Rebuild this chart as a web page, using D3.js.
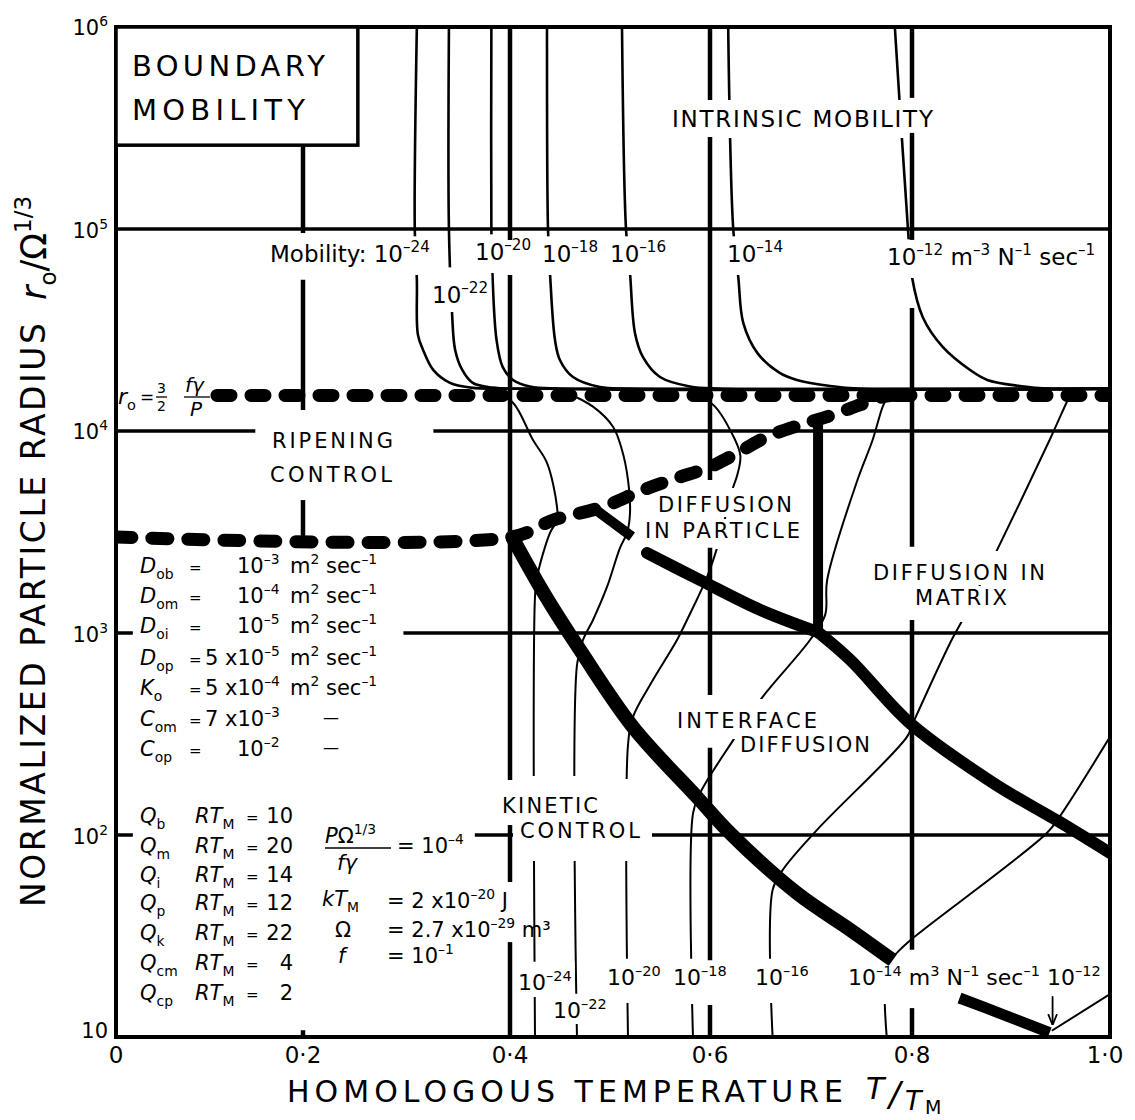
<!DOCTYPE html>
<html>
<head>
<meta charset="utf-8">
<script src="https://cdn.jsdelivr.net/npm/d3@7"></script>
<style>
  body { margin: 0; background: #fff; }
  text { font-family: "DejaVu Sans", "Liberation Sans", sans-serif; fill: #000; white-space: pre; }
</style>
</head>
<body>
<svg id="chart" width="1135" height="1120"></svg>
<script>
// ---------------- DATA (T/T_M, r0/Ω^(1/3)) ----------------
const xTicks = [0, 0.2, 0.4, 0.6, 0.8, 1.0];
const xTickLabels = ["0", "0·2", "0·4", "0·6", "0·8", "1·0"];
const yTicks = [10, 1e2, 1e3, 1e4, 1e5, 1e6];
const yTickExponents = ["", "2", "3", "4", "5", "6"];

// iso-mobility contours above the pinning limit (intrinsic region), exponents -24 ... -12
const mobilityExponents = ["–24", "–22", "–20", "–18", "–16", "–14", "–12"];
const upper24 = [[0.310,1e6],[0.308,1e5],[0.310,56000],[0.311,30000],[0.316,25200],[0.326,20000],[0.342,17300],[0.362,16400],[0.40,16200],[1.0,16200]];
const upper22 = [[0.341,1e6],[0.341,1e5],[0.344,38400],[0.347,25200],[0.354,20000],[0.364,17300],[0.383,16400],[0.42,16200],[1.0,16200]];
const upper20 = [[0.382,1e6],[0.382,1e5],[0.383,60500],[0.387,28200],[0.393,20700],[0.403,17900],[0.420,16600],[0.45,16200],[1.0,16200]];
const upper18 = [[0.437,1e6],[0.438,1e5],[0.440,60500],[0.445,28200],[0.450,22400],[0.463,18500],[0.490,16500],[0.52,16200],[1.0,16200]];
const upper16 = [[0.512,1e6],[0.516,1e5],[0.520,60500],[0.525,30500],[0.533,23200],[0.550,18500],[0.580,16600],[0.61,16200],[1.0,16200]];
const upper14 = [[0.618,1e6],[0.623,1e5],[0.628,57800],[0.633,34200],[0.647,24300],[0.669,19400],[0.686,17900],[0.719,16700],[0.75,16200],[1.0,16200]];
const upper12 = [[0.783,1e6],[0.796,1e5],[0.800,57800],[0.811,36500],[0.831,26100],[0.859,20000],[0.876,17900],[0.909,16700],[0.94,16200],[1.0,16200]];

// iso-mobility contours below the pinning limit
const lower24 = [[0.385,15600],[0.403,13800],[0.423,9020],[0.437,6950],[0.447,4210],[0.447,3620],[0.440,3130],[0.427,1890],[0.425,1510],[0.425,10]];
const lower22 = [[0.455,15600],[0.483,13200],[0.503,10500],[0.512,8050],[0.518,5720],[0.520,3930],[0.517,3130],[0.510,2640],[0.497,1690],[0.483,1160],[0.473,923],[0.467,695],[0.467,10]];
const lower20 = [[0.585,15600],[0.605,13200],[0.620,10100],[0.630,7600],[0.627,6050],[0.623,5280],[0.607,2640],[0.597,1890],[0.577,1160],[0.567,923],[0.540,553],[0.523,384],[0.518,279],[0.518,10]];
const lower18 = [[0.583,10],[0.583,128],[0.590,161],[0.623,295],[0.652,482],[0.699,923],[0.714,1230],[0.716,1830],[0.746,5720],[0.761,9020],[0.771,13200],[0.776,14800]];
const lower16 = [[0.662,10],[0.662,53.5],[0.672,67.1],[0.706,106],[0.795,306],[0.801,358],[0.840,923],[0.851,1160],[0.886,2580],[0.939,9020],[0.956,13800],[0.959,14800]];
const lower14 = [[0.775,10],[0.775,22.7],[0.786,26.4],[0.801,30.9],[0.936,102],[0.949,123],[1.0,306]];
const lower12 = [[0.942,10.8],[1.0,16.3]];
const arrow12 = [[0.942,15.8],[0.942,11.6]];

// field boundaries (heavy lines)
const kineticBoundary = [[0.402,2990],[0.435,1540],[0.470,824],[0.523,342],[0.587,154],[0.620,102],[0.686,51.6],[0.739,33.9],[0.781,24.0]];
const particleBoundary = [[0.537,2490],[0.590,1830],[0.650,1300],[0.707,1010]];
const matrixBoundary = [[0.707,1010],[0.739,735],[0.798,358],[0.882,181],[0.949,116],[1.0,81.5]];
const ripeningBoundary = [[0.707,10700],[0.707,1010]];
const lowerRightBoundary = [[0.848,15.6],[0.894,12.8],[0.939,10.5]];
const wedgeBoundary = [[0.488,4000],[0.522,3000]];

// dashed limits
const pinningLimit = [[0.108,15000],[1.0,15000]];
const ripeningLimit = [[0,2990],[0.402,2990],[0.443,3620],[0.493,4210],[0.533,5100],[0.567,5850],[0.600,6640],[0.627,7780],[0.656,9340],[0.689,10700],[0.719,11900],[0.749,13500],[0.774,14900],[0.80,15000]];

// grid segments (with the breaks of the original drawing)
const gridH = [
  {r:1e5, t0:0, t1:1},
  {r:1e4, t0:0, t1:0.149}, {r:1e4, t0:0.326, t1:1},
  {r:1e3, t0:0, t1:0.018}, {r:1e3, t0:0.297, t1:1},
  {r:1e2, t0:0, t1:0.018}, {r:1e2, t0:0.366, t1:0.403}, {r:1e2, t0:0.542, t1:1}
];
const gridV = [
  {t:0.2, r0:260000, r1:95500}, {t:0.2, r0:56000, r1:12700}, {t:0.2, r0:4550, r1:2990}, {t:0.2, r0:10.8, r1:10},
  {t:0.4, r0:1e6, r1:88300}, {t:0.4, r0:59200, r1:187}, {t:0.4, r0:112, r1:58.5}, {t:0.4, r0:29.5, r1:10},
  {t:0.6, r0:1e6, r1:435000}, {t:0.6, r0:285000, r1:5720}, {t:0.6, r0:2640, r1:493}, {t:0.6, r0:270, r1:24}, {t:0.6, r0:14.4, r1:10},
  {t:0.8, r0:1e6, r1:446000}, {t:0.8, r0:299000, r1:88300}, {t:0.8, r0:40600, r1:2670}, {t:0.8, r0:1160, r1:27}, {t:0.8, r0:13.9, r1:10}
];
const titleBox = {t0:0, t1:0.253, r0:1e6, r1:260000};

// material parameters
const paramSymbols = ["D","D","D","D","K","C","C"];
const paramSubscripts = ["ob","om","oi","op","o","om","op"];
const paramMantissas = ["","","","5 x","5 x","7 x",""];
const paramExponents = ["–3","–4","–5","–5","–4","–3","–2"];
const paramHasUnits = [true,true,true,true,true,false,false];
const activationSubscripts = ["b","m","i","p","k","cm","cp"];
const activationValues = ["10","20","14","12","22","4","2"];
const pressureRatioExponent = "–4";
const constMantissas = ["2 x","2.7 x",""];
const constExponents = ["–20","–29","–1"];
const constUnits = [" J"," m³",""];

// ---------------- DRAWING ----------------
const svg = d3.select("#chart");
const x = d3.scaleLinear().domain(xTicks).range([116, 303, 510, 710, 912, 1110]);
const y = d3.scaleLog().domain([10, 1e6]).range([1037, 27]);
const smooth = d3.line().x(d => x(d[0])).y(d => y(d[1])).curve(d3.curveCatmullRom.alpha(0.5));
const straight = d3.line().x(d => x(d[0])).y(d => y(d[1]));

const defs = svg.append("defs");
defs.append("clipPath").attr("id", "plotClip").append("rect")
  .attr("x", x(0)).attr("y", y(1e6)).attr("width", x(1) - x(0)).attr("height", y(10) - y(1e6));
defs.append("marker").attr("id", "arr").attr("viewBox", "0 0 10 10").attr("refX", 9).attr("refY", 5)
  .attr("markerUnits", "userSpaceOnUse").attr("markerWidth", 11).attr("markerHeight", 11).attr("orient", "auto")
  .append("path").attr("d", "M0,1 L10,5 L0,9").attr("fill", "none").attr("stroke", "#000").attr("stroke-width", 1.6);

// layers
const gCont = svg.append("g").attr("fill", "none").attr("stroke", "#000").attr("stroke-linecap", "round").attr("clip-path", "url(#plotClip)");
const gKo = svg.append("g");
const gGrid = svg.append("g").attr("stroke", "#000");
const gThick = svg.append("g").attr("fill", "none").attr("stroke", "#000").attr("clip-path", "url(#plotClip)");
const gDash = svg.append("g").attr("fill", "none").attr("stroke", "#000").attr("clip-path", "url(#plotClip)");
const gFrame = svg.append("g").attr("fill", "none").attr("stroke", "#000");
const gText = svg.append("g");

// thin contours
[upper24, upper22, upper20, upper18, upper16, upper14, upper12].forEach(c =>
  gCont.append("path").attr("d", smooth(c)).attr("stroke-width", 2.6));
[lower24, lower22, lower20, lower18, lower16, lower14, lower12].forEach(c =>
  gCont.append("path").attr("d", smooth(c)).attr("stroke-width", 2));
gCont.append("path").attr("d", straight(arrow12)).attr("stroke-width", 1.8).attr("marker-end", "url(#arr)");

// grid
gridH.forEach(s => gGrid.append("line")
  .attr("x1", x(s.t0)).attr("x2", x(s.t1)).attr("y1", y(s.r)).attr("y2", y(s.r)).attr("stroke-width", 3.5));
gridV.forEach(s => gGrid.append("line")
  .attr("x1", x(s.t)).attr("x2", x(s.t)).attr("y1", y(s.r0)).attr("y2", y(s.r1)).attr("stroke-width", 4.5));

// heavy boundaries
gThick.append("path").attr("d", smooth(kineticBoundary)).attr("stroke-width", 14).attr("stroke-linecap", "butt");
gThick.append("path").attr("d", smooth(particleBoundary)).attr("stroke-width", 12).attr("stroke-linecap", "round");
gThick.append("path").attr("d", smooth(matrixBoundary)).attr("stroke-width", 12).attr("stroke-linecap", "round");
gThick.append("path").attr("d", straight(ripeningBoundary)).attr("stroke-width", 10).attr("stroke-linecap", "butt");
gThick.append("path").attr("d", smooth(lowerRightBoundary)).attr("stroke-width", 11).attr("stroke-linecap", "butt");
gThick.append("path").attr("d", straight(wedgeBoundary)).attr("stroke-width", 10).attr("stroke-linecap", "butt");

// dashed limits
gDash.append("path").attr("d", straight(pinningLimit)).attr("stroke-width", 13)
  .attr("stroke-linecap", "round").attr("stroke-dasharray", "14 20");
gDash.append("path").attr("d", smooth(ripeningLimit)).attr("stroke-width", 13)
  .attr("stroke-linecap", "round").attr("stroke-dasharray", "16 20");

// frame and title box
gFrame.append("rect").attr("x", x(0)).attr("y", y(1e6)).attr("width", x(1) - x(0)).attr("height", y(10) - y(1e6)).attr("stroke-width", 4);
gFrame.append("rect").attr("x", x(titleBox.t0)).attr("y", y(titleBox.r0))
  .attr("width", x(titleBox.t1) - x(titleBox.t0)).attr("height", y(titleBox.r1) - y(titleBox.r0))
  .attr("fill", "#fff").attr("stroke-width", 3.5);

// ---------------- TEXT ----------------
function rich(parent, px, py, parts, size, opts = {}) {
  const t = parent.append("text").attr("x", px).attr("y", py).attr("font-size", size);
  if (opts.anchor) t.attr("text-anchor", opts.anchor);
  if (opts.transform) t.attr("transform", opts.transform).attr("x", 0).attr("y", 0);
  let off = 0;
  parts.forEach(p => {
    const [s, k] = Array.isArray(p) ? [p[0], p[1] || ""] : [p, ""];
    let target = 0, fs = size;
    if (k.includes("^")) { target = -0.42 * size; fs = 0.66 * size; }
    else if (k.includes("_")) { target = 0.28 * size; fs = 0.66 * size; }
    const ts = t.append("tspan").text(s).attr("font-size", fs);
    if (target - off !== 0) ts.attr("dy", (target - off).toFixed(2));
    if (k.includes("i")) ts.attr("font-style", "italic");
    off = target;
  });
  return t;
}
function knockout(t, pad) {
  const b = t.node().getBBox();
  const [pt, pb, px] = pad;
  gKo.append("rect").attr("x", b.x - px).attr("y", b.y - pt)
    .attr("width", b.width + 2 * px).attr("height", b.height + pt + pb).attr("fill", "#fff");
}
function caps(str, px, py, w, size, pad) {
  const t = gText.append("text").attr("x", px).attr("y", py).attr("font-size", size)
    .attr("textLength", w).attr("lengthAdjust", "spacing").text(str);
  if (pad) knockout(t, pad);
  return t;
}

// axis tick labels
const yTickDy = [1, 9, 9, 8, 9, 8];
yTicks.forEach((v, i) => rich(gText, 108, y(v) + yTickDy[i], ["10", [yTickExponents[i], "^"]], 21, {anchor: "end"}));
xTicks.forEach((v, i) => gText.append("text").attr("x", x(v) - (i === 5 ? 5 : 0)).attr("y", 1063)
  .attr("font-size", 23).attr("text-anchor", "middle").text(xTickLabels[i]));

// axis titles
caps("HOMOLOGOUS TEMPERATURE", 287, 1102, 556, 30);
gText.append("text").attr("x", 866).attr("y", 1099).attr("font-size", 30).attr("font-style", "italic").text("T");
gText.append("text").attr("x", 889).attr("y", 1106).attr("font-size", 34).attr("font-style", "italic").text("/");
gText.append("text").attr("x", 905).attr("y", 1110).attr("font-size", 27).attr("font-style", "italic").text("T");
gText.append("text").attr("x", 925).attr("y", 1114).attr("font-size", 19).text("M");
gText.append("text").attr("transform", "translate(45,907) rotate(-90)").attr("font-size", 33)
  .attr("textLength", 584).attr("lengthAdjust", "spacing").text("NORMALIZED PARTICLE RADIUS");
rich(gText, 0, 0, [["r", "i"], ["o", "_"], "/", "Ω", ["1/3", "^"]], 35, {transform: "translate(46,300) rotate(-90)"});

// region labels
caps("BOUNDARY", 132, 76, 193, 29);
caps("MOBILITY", 132, 120, 173, 29);
caps("INTRINSIC MOBILITY", 672, 127, 261, 23, [6, 6, 3]);
caps("RIPENING", 272, 448, 121, 21);
caps("CONTROL", 270, 482, 122, 21);
caps("DIFFUSION", 658, 512, 134, 21, [5, 0, 3]);
caps("IN PARTICLE", 645, 538, 155, 21, [0, 6, 3]);
caps("DIFFUSION IN", 873, 580, 172, 21, [10, 0, 3]);
caps("MATRIX", 915, 605, 92, 21, [0, 12, 3]);
caps("INTERFACE", 677, 728, 140, 21, [10, 6, 3]);
caps("DIFFUSION", 740, 752, 130, 21, [0, 4, 3]);
caps("KINETIC", 502, 813, 96, 21, [18, 0, 3]);
caps("CONTROL", 520, 838, 120, 21, [40, 18, 4]);

// mobility labels (top row, intrinsic)
const topLabelPos = [[270, 262], [432, 303], [475, 260], [542, 262], [610, 262], [727, 262], [887, 265]];
mobilityExponents.forEach((e, i) => {
  let parts = ["10", [e, "^"]];
  if (i === 0) parts = ["Mobility: 10", [e, "^"]];
  if (i === 6) parts = ["10", [e, "^"], " m", ["–3", "^"], " N", ["–1", "^"], " sec", ["–1", "^"]];
  const t = rich(gText, topLabelPos[i][0], topLabelPos[i][1], parts, 23);
  knockout(t, i === 1 ? [12, 4, 3] : [2, 8, 3]);
});
// mobility labels (bottom row)
const bottomLabelPos = [[518, 990], [553, 1018], [607, 985], [673, 985], [755, 985], [848, 985], [1047, 985]];
const bottomLabelPads = [[6, 2, 3], [2, 1, 3], [4, 13, 3], [4, 14, 3], [4, 13, 3], [4, 14, 3], [4, 3, 3]];
mobilityExponents.forEach((e, i) => {
  let parts = ["10", [e, "^"]];
  if (i === 5) parts = ["10", [e, "^"], " m", ["3", "^"], " N", ["–1", "^"], " sec", ["–1", "^"]];
  const t = rich(gText, bottomLabelPos[i][0], bottomLabelPos[i][1], parts, 22);
  knockout(t, bottomLabelPads[i]);
});

// r0 = 3/2 fγ/P
rich(gText, 118, 404, [["r", "i"], ["o", "_"]], 22);
gText.append("text").attr("x", 140).attr("y", 403).attr("font-size", 17).text("=");
gText.append("text").attr("x", 157).attr("y", 393).attr("font-size", 14).text("3");
gText.append("text").attr("x", 157).attr("y", 411).attr("font-size", 14).text("2");
gText.append("line").attr("x1", 156).attr("x2", 167).attr("y1", 397).attr("y2", 397).attr("stroke", "#000").attr("stroke-width", 1.3);
rich(gText, 185, 392, [["fγ", "i"]], 20);
rich(gText, 190, 416, [["P", "i"]], 20);
gText.append("line").attr("x1", 184).attr("x2", 210).attr("y1", 397).attr("y2", 397).attr("stroke", "#000").attr("stroke-width", 1.3);

// parameter block
const paramRowsY = [573, 603, 633, 665, 695, 726, 756];
paramSymbols.forEach((s, i) => {
  const yy = paramRowsY[i];
  rich(gText, 140, yy, [[s, "i"], [paramSubscripts[i], "_"]], 21);
  gText.append("text").attr("x", 189).attr("y", yy).attr("font-size", 15).text("=");
  if (paramMantissas[i]) rich(gText, 205, yy, [paramMantissas[i] + "10", [paramExponents[i], "^"]], 21);
  else rich(gText, 237, yy, ["10", [paramExponents[i], "^"]], 21);
  if (paramHasUnits[i]) rich(gText, 290, yy, ["m", ["2", "^"], " sec", ["–1", "^"]], 21);
  else gText.append("text").attr("x", 323).attr("y", yy - 3).attr("font-size", 16).text("—");
});
const activationRowsY = [823, 853, 882, 910, 940, 970, 1000];
activationSubscripts.forEach((s, i) => {
  const yy = activationRowsY[i];
  rich(gText, 140, yy, [["Q", "i"], [s, "_"]], 21);
  rich(gText, 195, yy, [["RT", "i"], ["M", "_"]], 21);
  gText.append("text").attr("x", 246).attr("y", yy).attr("font-size", 15).text("=");
  gText.append("text").attr("x", 293).attr("y", yy).attr("font-size", 21).attr("text-anchor", "end").text(activationValues[i]);
});

// right block
rich(gText, 325, 843, [["P", "i"], "Ω", ["1/3", "^"]], 21);
gText.append("line").attr("x1", 325).attr("x2", 391).attr("y1", 848).attr("y2", 848).attr("stroke", "#000").attr("stroke-width", 1.5);
rich(gText, 337, 870, [["fγ", "i"]], 21);
rich(gText, 397, 853, ["= 10", [pressureRatioExponent, "^"]], 21);
const constRowsY = [906, 937, 963];
rich(gText, 322, constRowsY[0], [["kT", "i"], ["M", "_"]], 21);
gText.append("text").attr("x", 335).attr("y", constRowsY[1]).attr("font-size", 21).text("Ω");
gText.append("text").attr("x", 338).attr("y", constRowsY[2]).attr("font-size", 21).attr("font-style", "italic").text("f");
constMantissas.forEach((m, i) => {
  rich(gText, 387, constRowsY[i] + (i === 0 ? 2 : 0), ["= " + (m ? m : "") + "10", [constExponents[i], "^"], constUnits[i]], 21);
});
</script>
</body>
</html>
